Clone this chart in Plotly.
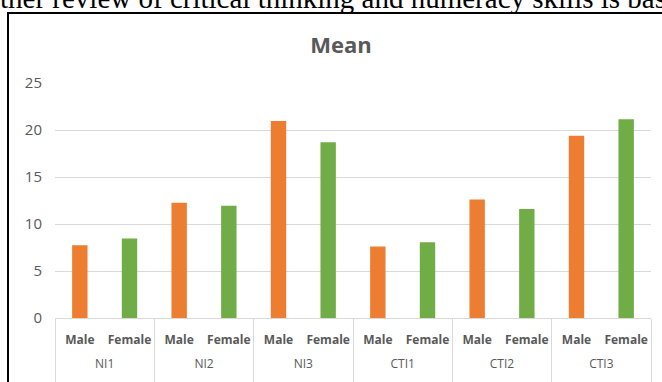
import plotly.graph_objects as go

# Mean scores by indicator and gender
groups = ["NI1", "NI2", "NI3", "CTI1", "CTI2", "CTI3"]
genders = ["Male", "Female"]
male_mean = [7.75, 12.25, 20.95, 7.6, 12.6, 19.4]
female_mean = [8.45, 11.95, 18.7, 8.05, 11.6, 21.15]

x_groups = []
x_subs = []
y_vals = []
colors = []
bar_colors = {"Male": "#ED7D31", "Female": "#70AD47"}
for g, m, f in zip(groups, male_mean, female_mean):
    for sex, v in zip(genders, (m, f)):
        # padding lines drop the group row below the gender row and
        # stretch the group dividers down to the bottom edge
        x_groups.append(f"<br>{g}<br>&nbsp;")
        x_subs.append(f"<b>{sex}</b>")
        y_vals.append(v)
        colors.append(bar_colors[sex])

W, H = 662, 382
L, R, T, B = 55, 11, 83, 64
pw, ph = W - L - R, H - T - B


def px_x(p):
    return (p - L) / pw


def px_y(p):
    return (H - B - p) / ph


fig = go.Figure(
    go.Bar(
        x=[x_groups, x_subs],
        y=y_vals,
        marker=dict(color=colors, line=dict(width=0)),
        hoverinfo="x+y",
    )
)

fig.update_layout(
    width=W,
    height=H,
    margin=dict(l=L, r=R, t=T, b=B, autoexpand=False),
    paper_bgcolor="white",
    plot_bgcolor="white",
    bargap=0.69,
    showlegend=False,
    font=dict(family="Open Sans", color="#595959"),
    title=dict(
        text="<b>Mean</b>",
        x=px_x(341),
        xref="paper",
        xanchor="center",
        y=1 - 45 / H,
        yanchor="middle",
        font=dict(size=22, color="#595959", family="Open Sans"),
    ),
)

fig.update_xaxes(
    type="multicategory",
    automargin=False,
    tickangle=0,
    showline=True,
    linecolor="#d9d9d9",
    linewidth=1,
    showgrid=False,
    ticks="",
    ticklabelstandoff=11,
    showdividers=True,
    dividercolor="#d9d9d9",
    dividerwidth=1,
    tickfont=dict(size=12, color="#595959", family="Open Sans"),
)

fig.update_yaxes(
    automargin=False,
    range=[0, 25],
    tickvals=[0, 5, 10, 15, 20, 25],
    showgrid=True,
    gridcolor="#d9d9d9",
    gridwidth=1,
    zeroline=False,
    showline=False,
    ticks="",
    ticklabelstandoff=12,
    tickfont=dict(size=15, color="#595959", family="Open Sans"),
)

# Surrounding document text and chart frame
fig.add_annotation(
    text="ther review of critical thinking and numeracy skills is bas",
    xref="paper",
    yref="paper",
    x=px_x(-2),
    y=px_y(16),
    xanchor="left",
    yanchor="bottom",
    showarrow=False,
    font=dict(family="Liberation Serif", size=29, color="black"),
)
fig.add_shape(
    type="rect",
    xref="paper",
    yref="paper",
    x0=px_x(8),
    x1=px_x(700),
    y0=px_y(420),
    y1=px_y(13),
    line=dict(color="black", width=2),
    fillcolor="rgba(0,0,0,0)",
    layer="below",
)

fig.write_html("out.html")
